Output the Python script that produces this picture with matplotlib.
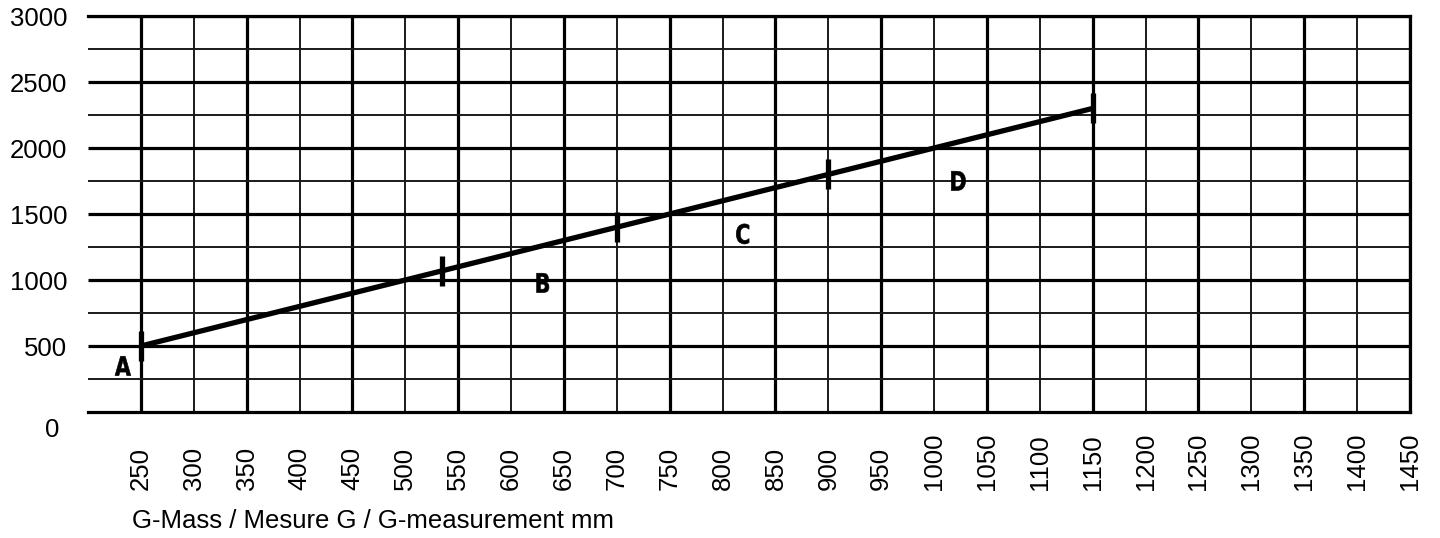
import matplotlib.pyplot as plt
from matplotlib.font_manager import FontProperties
from matplotlib.patches import PathPatch
from matplotlib.textpath import TextPath
from matplotlib.transforms import Affine2D, IdentityTransform

# Chart values
x_ticks = list(range(250, 1451, 50))
y_ticks = [500, 1000, 1500, 2000, 2500, 3000]
y_minor = [250, 750, 1250, 1750, 2250, 2750]

# Points on the G-measurement curve (marked with a short bar)
curve_x = [250, 535, 700, 900, 1150]
curve_y = [500, 1070, 1400, 1800, 2300]

# Zone letters and where they sit
zones = ['A', 'B', 'C', 'D']
zone_x = [233, 630, 819, 1023]
zone_y = [349, 978, 1349, 1751]

plt.rcParams['font.family'] = ['Liberation Sans', 'DejaVu Sans']
DPI = 100

fig = plt.figure(figsize=(14.4, 5.38), dpi=DPI)
ax = fig.add_axes([88 / 1440, 1 - 412 / 538, 1322 / 1440, 396 / 538])
ax.set_xlim(200, 1450)
ax.set_ylim(0, 3000)

# Grid: heavy lines every 100 mm / 500, light lines in between
heavy_x = [v for v in x_ticks if (v - 250) % 100 == 0]
light_x = [v for v in x_ticks if (v - 250) % 100 != 0 and v < 1450]
ax.vlines(heavy_x, 0, 3000, colors='black', linewidth=2.3, zorder=1)
ax.vlines(light_x, 0, 3000, colors='#1a1a1a', linewidth=1.4, zorder=1)
ax.hlines(y_ticks, 200, 1450, colors='black', linewidth=2.3, zorder=1)
ax.hlines(y_minor, 200, 1450, colors='#1a1a1a', linewidth=1.4, zorder=1)

for side in ['top', 'right', 'bottom']:
    ax.spines[side].set_linewidth(2.3)
ax.spines['left'].set_visible(False)

# Curve with bars at the zone boundaries
ax.plot(curve_x, curve_y, color='black', linewidth=3.8, solid_capstyle='butt', zorder=3)
ax.plot(curve_x, curve_y, linestyle='none', marker='|', markersize=21,
        markeredgewidth=3.8, color='black', zorder=4)

# Zone letters: bold, squeezed horizontally to look condensed
bold = FontProperties(family='DejaVu Sans', weight='bold')
for name, zx, zy in zip(zones, zone_x, zone_y):
    path = TextPath((0, 0), name, size=28, prop=bold)
    ext = path.get_extents()
    cx = (ext.x0 + ext.x1) / 2
    cy = (ext.y0 + ext.y1) / 2
    px, py = ax.transData.transform((zx, zy))
    tr = Affine2D().translate(-cx, -cy).scale(0.74, 0.95).translate(px, py)
    ax.add_patch(PathPatch(path, transform=tr + IdentityTransform(),
                           facecolor='black', edgecolor='black', linewidth=0.4, zorder=5))

ax.set_xticks(x_ticks)
ax.set_xticklabels([str(v) for v in x_ticks], rotation=90, va='bottom', fontsize=18.5)
ax.set_yticks(y_ticks)
ax.set_yticklabels([str(v) for v in y_ticks], fontsize=18.5)
ax.tick_params(axis='x', length=0, pad=56)
ax.tick_params(axis='y', length=0, pad=15)
ax.text(-0.027, -0.045, '0', transform=ax.transAxes, ha='center', va='center', fontsize=18.5)

ax.text(132 / 1440, 1 - 521 / 538, 'G-Mass / Mesure G / G-measurement mm',
        transform=fig.transFigure, ha='left', va='center', fontsize=18.5)

fig.savefig('out.png', dpi=DPI)
